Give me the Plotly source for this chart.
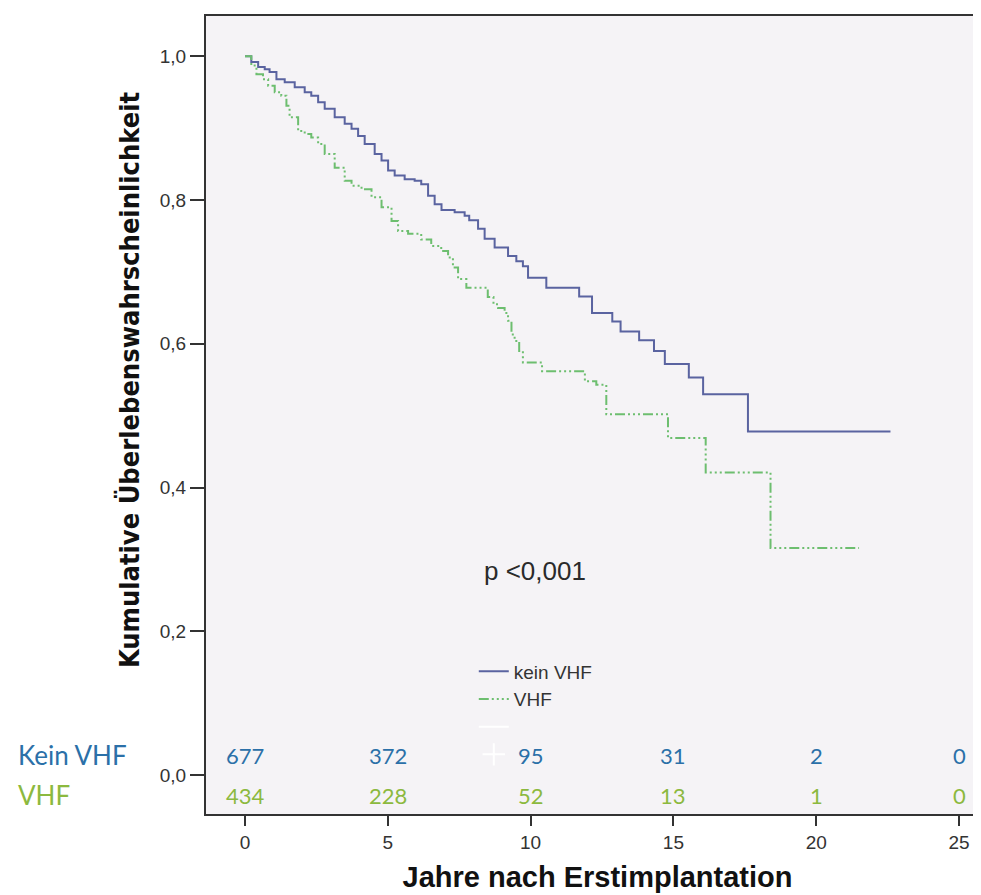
import plotly.graph_objects as go

# ---- data ----
t_kein = [0, 0.22, 0.46, 0.69, 0.86, 1.10, 1.39, 1.74, 2.09, 2.32, 2.56, 2.79, 3.14, 3.49,
          3.73, 3.96, 4.19, 4.54, 4.78, 5.01, 5.24, 5.59, 5.94, 6.17, 6.41, 6.64, 6.88, 7.34,
          7.69, 7.85, 8.16, 8.39, 8.74, 9.21, 9.50, 9.73, 9.91, 10.55, 11.70, 12.15, 12.86,
          13.15, 13.80, 14.32, 14.70, 15.54, 16.04, 17.61, 22.6]
s_kein = [1.0, 0.992, 0.985, 0.982, 0.978, 0.968, 0.964, 0.957, 0.950, 0.945, 0.936, 0.927,
          0.915, 0.906, 0.899, 0.889, 0.878, 0.864, 0.855, 0.841, 0.834, 0.829, 0.827, 0.822,
          0.806, 0.794, 0.786, 0.783, 0.778, 0.772, 0.760, 0.746, 0.734, 0.722, 0.715, 0.708,
          0.692, 0.678, 0.666, 0.643, 0.631, 0.617, 0.605, 0.590, 0.572, 0.553, 0.530, 0.478,
          0.478]

t_vhf = [0, 0.22, 0.40, 0.63, 0.81, 1.04, 1.27, 1.45, 1.56, 1.86, 2.09, 2.32, 2.56, 2.79,
         3.14, 3.49, 3.73, 4.08, 4.43, 4.78, 5.13, 5.36, 5.71, 6.17, 6.52, 6.87, 7.11, 7.28,
         7.46, 7.75, 8.50, 8.70, 8.86, 9.09, 9.21, 9.33, 9.44, 9.60, 9.73, 10.40, 11.90,
         12.30, 12.65, 14.81, 16.13, 18.40, 21.5]
s_vhf = [1.0, 0.987, 0.975, 0.968, 0.959, 0.950, 0.945, 0.931, 0.915, 0.896, 0.892, 0.887,
         0.878, 0.864, 0.845, 0.827, 0.820, 0.815, 0.804, 0.790, 0.771, 0.757, 0.753, 0.745,
         0.736, 0.729, 0.720, 0.706, 0.690, 0.678, 0.665, 0.655, 0.650, 0.643, 0.632, 0.613,
         0.604, 0.590, 0.574, 0.562, 0.548, 0.543, 0.502, 0.469, 0.421, 0.316, 0.316]

risk_times = [0, 5, 10, 15, 20, 25]
risk_kein = [677, 372, 95, 31, 2, 0]
risk_vhf = [434, 228, 52, 13, 1, 0]
group_labels = ["Kein VHF", "VHF"]
legend_names = ["kein VHF", "VHF"]
x_ticks = [0, 5, 10, 15, 20, 25]
y_ticks = [0.0, 0.2, 0.4, 0.6, 0.8, 1.0]
p_text = "p <0,001"
x_title = "Jahre nach Erstimplantation"
y_title = "Kumulative Überlebenswahrscheinlichkeit"

BLUE_LINE = "#5A63A0"
GREEN_LINE = "#6DBE6F"
BLUE_TXT = "#2B70A8"
GREEN_TXT = "#8CB93E"
AXIS = "#333333"
RISK_FONT = "Lato, Liberation Sans Narrow, sans-serif"

fig = go.Figure()
fig.add_trace(go.Scatter(x=t_kein, y=s_kein, mode="lines", name=legend_names[0],
                         line=dict(shape="hv", color=BLUE_LINE, width=2)))
fig.add_trace(go.Scatter(x=t_vhf, y=s_vhf, mode="lines", name=legend_names[1],
                         line=dict(shape="hv", color=GREEN_LINE, width=2,
                                   dash="10px,3px,2px,3px,2px,3px,2px,3px")))
# white censor-mark legend entries (as in the reference)
fig.add_trace(go.Scatter(x=[None], y=[None], mode="lines", name=" ",
                         line=dict(color="white", width=2)))
fig.add_trace(go.Scatter(x=[None], y=[None], mode="markers", name=" ",
                         marker=dict(symbol="cross-thin", size=16, color="white",
                                     line=dict(color="white", width=2))))

annotations = []
row_y = [0.028, -0.028]
row_colors = [BLUE_TXT, GREEN_TXT]
for vals, yy, col, lab in zip([risk_kein, risk_vhf], row_y, row_colors, group_labels):
    for t, n in zip(risk_times, vals):
        annotations.append(dict(x=t, y=yy, xref="x", yref="y", text=str(n), showarrow=False,
                                font=dict(family=RISK_FONT, size=22, color=col)))
    annotations.append(dict(x=-0.243, y=yy, xref="paper", yref="y", text=lab, showarrow=False,
                            xanchor="left", font=dict(family=RISK_FONT, size=26, color=col)))

annotations.append(dict(x=10.15, y=0.284, xref="x", yref="y", text=p_text, showarrow=False,
                        font=dict(family="Liberation Sans, Arial, sans-serif", size=26,
                                  color="#2a2a2a")))
annotations.append(dict(x=-0.1214, y=0.545, xref="paper", yref="paper",
                        text="<b>" + y_title + "</b>", textangle=-90, showarrow=False,
                        font=dict(family="Liberation Sans Narrow, DejaVu Sans Condensed, Liberation Sans, sans-serif",
                                  size=27, color="#111111")))

fig.update_layout(
    width=981, height=895,
    margin=dict(l=198, r=0, t=8, b=89),
    paper_bgcolor="white",
    plot_bgcolor="#F5F3F6",
    separators=",.",
    showlegend=True,
    legend=dict(x=0.342, y=0.2025, xanchor="left", yanchor="top",
                bgcolor="rgba(0,0,0,0)", borderwidth=0,
                font=dict(family="Liberation Sans, Arial, sans-serif", size=19, color="#333333"),
                tracegroupgap=0, itemwidth=30),
    annotations=annotations,
)
fig.update_xaxes(range=[-1.366, 26.05], tickvals=x_ticks, ticks="outside", ticklen=10,
                 tickwidth=2, tickcolor=AXIS, showline=True, linecolor=AXIS, linewidth=2,
                 mirror=True, showgrid=False, zeroline=False,
                 tickfont=dict(family="Liberation Sans, Arial, sans-serif", size=19, color="#333333"),
                 title=dict(text="<b>" + x_title + "</b>", standoff=15,
                            font=dict(family="Liberation Sans, Arial, sans-serif", size=29,
                                      color="#111111")))
fig.update_yaxes(range=[-0.054, 1.056], tickvals=y_ticks, tickformat=".1f", ticks="outside",
                 ticklen=14, tickwidth=2, tickcolor=AXIS, showline=True, linecolor=AXIS,
                 linewidth=2, mirror=False, showgrid=False, zeroline=False,
                 tickfont=dict(family="Liberation Sans, Arial, sans-serif", size=19, color="#333333"))

fig.write_html("out.html")
